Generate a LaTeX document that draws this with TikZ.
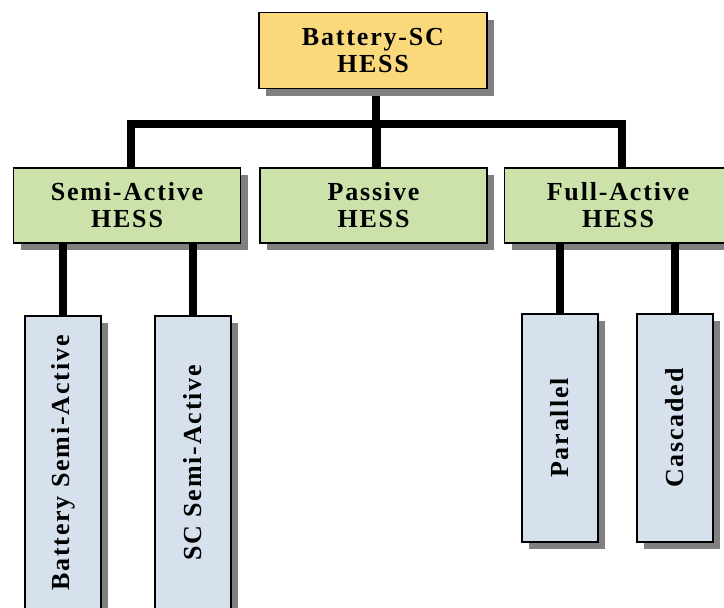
\documentclass[tikz,border=0pt]{standalone}
\usepackage{fontspec}
\setmainfont{Liberation Serif}[LetterSpace=7]
\usetikzlibrary{shadows}
\definecolor{boxyellow}{RGB}{250,217,125}
\definecolor{boxgreen}{RGB}{205,226,170}
\definecolor{boxblue}{RGB}{215,225,238}
\tikzset{
  box/.style={draw=black, line width=1.4pt, rectangle, inner sep=0pt, align=center,
    font=\fontsize{26}{27}\selectfont\bfseries,
    drop shadow={shadow xshift=7pt, shadow yshift=-7pt, fill=black!50, opacity=1}},
  topbox/.style={box, fill=boxyellow, minimum width=228pt, minimum height=76pt},
  midbox/.style={box, fill=boxgreen, minimum width=227pt, minimum height=75pt},
  leafbox/.style={box, fill=boxblue, minimum width=76pt},
  vlabel/.style={rotate=90, font=\fontsize{26}{27}\selectfont\bfseries},
  conn/.style={line width=8.5pt, black, line join=miter}
}
\begin{document}
\begin{tikzpicture}[x=1pt,y=-1pt]
\useasboundingbox (0,0) rectangle (724,608);
% level 0
\node[topbox] (top) at (373,50.5) {Battery-SC\\HESS};
% level 1
\node[midbox] (semi) at (127,205.5) {Semi-Active\\HESS};
\node[midbox] (pass) at (373.5,205.5) {Passive\\HESS};
\node[midbox] (full) at (618,205.5) {Full-Active\\HESS};
% level 2
\node[leafbox, minimum height=294pt, label={[vlabel]center:Battery Semi-Active}] (bsa) at (63,463) {};
\node[leafbox, minimum height=294pt, label={[vlabel]center:SC Semi-Active}] (scsa) at (193,463) {};
\node[leafbox, minimum height=228pt, label={[vlabel]center:Parallel}] (par) at (560,428) {};
\node[leafbox, minimum height=228pt, label={[vlabel]center:Cascaded}] (cas) at (675,428) {};
% connectors
\coordinate (bar) at (376,124);
\draw[conn] ([xshift=3pt,yshift=-7pt]top.south) -- ([xshift=3pt]top.south |- bar);
\draw[conn] ([xshift=4pt]semi.north) -- ([xshift=4pt]semi.north |- bar)
  -- ([xshift=4pt]full.north |- bar) -- ([xshift=4pt]full.north);
\draw[conn] ([xshift=3pt]pass.north) -- ([xshift=3pt]pass.north |- bar);
\draw[conn] (bsa.north |- semi.south) -- (bsa.north);
\draw[conn] (scsa.north |- semi.south) -- (scsa.north);
\draw[conn] (par.north |- full.south) -- (par.north);
\draw[conn] (cas.north |- full.south) -- (cas.north);
\end{tikzpicture}
\end{document}
